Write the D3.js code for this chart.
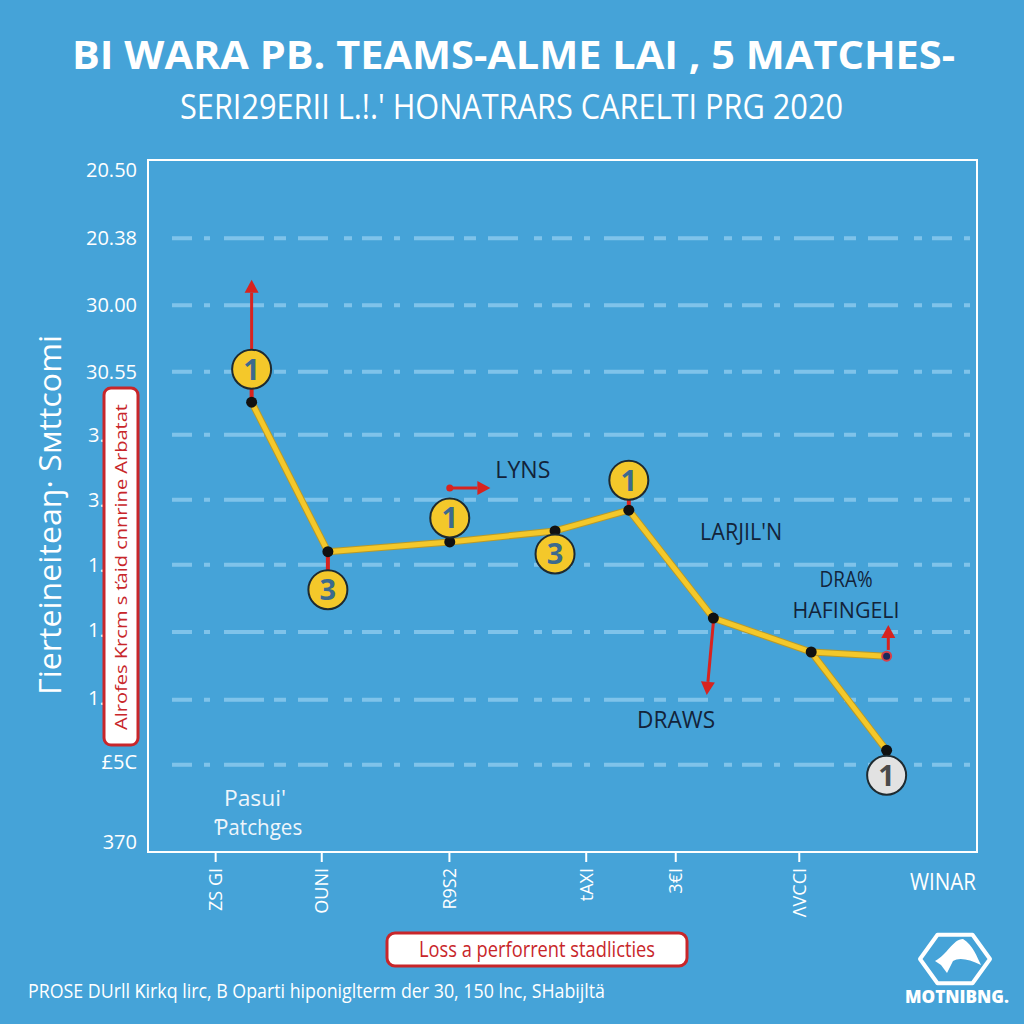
<!DOCTYPE html>
<html><head><meta charset="utf-8">
<script src="https://cdn.jsdelivr.net/npm/d3@7"></script>
<style>html,body{margin:0;padding:0;background:#45a3d8;}svg{display:block}</style>
</head><body><svg id="c" width="1024" height="1024"></svg>
<script>
// ---------- data ----------
const title = "BI WARA PB. TEAMS-ALME LAI , 5 MATCHES-";
const subtitle = "SERI29ERII L.!.' HONATRARS CARELTI PRG 2020";
const yAxisTitle = "Γierteineiteaŋ· Sмttcomi";
const redBoxText = "Alrofes Ƙrcm s ťaid cnnrine Arbatat";
const legendText = "Loss a perforrent stadlicties";
const footerText = "PROSE DUrll Ƙirkq lirc, B Oparti hiponiglterm der 30, 150 lnc, SHabijltä";
const xEndLabel = "WINAR";
const brandName = "MOTNIBNG.";
const yTickValues = [98.5, 88.7, 79, 69.4, 60.3, 50.9, 41.5, 32.1, 22.3, 13, 1.5];
const yTickLabels = ["20.50","20.38","30.00","30.55","3.0","3.0","1.0","1.0","1.0","£5C","370"];
const gridValues = [88.7, 79, 69.4, 60.3, 50.9, 41.5, 31.8, 22.0, 12.6];
const xTickValues = [8.1, 20.9, 36.3, 52.8, 63.6, 78.5];
const xTickLabels = ["ZS GI","OUNI","R9S2","tAXI","3€I","ΛVCCI"];
const matchX = [12.5, 21.7, 36.4, 49.1, 58.0, 68.2, 80.0, 89.1];
const matchY = [65.0, 43.4, 44.8, 46.4, 49.4, 33.8, 28.9, 14.7];
const branchX = [80.0, 89.1];
const branchY = [28.9, 28.3];
const badgeIndex = [0, 1, 2, 3, 4, 7];
const badgeLabels = ["1", "3", "1", "3", "1", "1"];
const badgeKind = ["win", "draw", "win", "draw", "win", "loss"];
const noteLabels = ["LYNS", "LARJIL'N", "DRA%", "HAFINGELI", "DRAWS", "Pasui'", "Ƥatchges"];
const noteX = [41.9, 66.6, 84.2, 84.2, 59.0, 12.9, 13.3];
const noteY = [54.0, 45.1, 38.3, 33.8, 17.9, 6.6, 2.5];
const arrowX1 = [12.5, 36.4, 68.2, 89.3];
const arrowY1 = [72.5, 52.6, 33.2, 29.2];
const arrowX2 = [12.5, 41.3, 67.4, 89.3];
const arrowY2 = [82.7, 52.6, 22.7, 32.8];

// ---------- layout ----------
const svg = d3.select("#c");
const W = 1024, H = 1024;
const plot = {l: 148, r: 977, t: 160, b: 852};
const x = d3.scaleLinear().domain([0, 100]).range([plot.l, plot.r]);
const y = d3.scaleLinear().domain([0, 100]).range([plot.b, plot.t]);
const F = "'Open Sans', 'Noto Sans', sans-serif";
const navy = "#13233a", red = "#d8231f", yellow = "#f4c82a";

svg.append("rect").attr("width", W).attr("height", H).attr("fill", "#45a3d8");

// title
svg.append("text").attr("x", 72).attr("y", 69).text(title)
  .attr("font-family", F).attr("font-weight", 700).attr("font-size", 40).attr("fill", "#fff")
  .attr("textLength", 883).attr("lengthAdjust", "spacingAndGlyphs");
svg.append("text").attr("x", 180).attr("y", 119).text(subtitle)
  .attr("font-family", F).attr("font-size", 34).attr("fill", "#fff")
  .attr("textLength", 663).attr("lengthAdjust", "spacingAndGlyphs");

// gridlines
svg.append("g").selectAll("line").data(gridValues).join("line")
  .attr("x1", 172).attr("x2", 970)
  .attr("y1", d => y(d)).attr("y2", d => y(d))
  .attr("stroke", "#8ecbef").attr("stroke-width", 4).attr("opacity", 0.8)
  .attr("stroke-dasharray", "20 12 6 14 40 10 12 12 30 16 8 10");

// frame
svg.append("rect").attr("x", plot.l).attr("y", plot.t)
  .attr("width", plot.r - plot.l).attr("height", plot.b - plot.t)
  .attr("fill", "none").attr("stroke", "#fff").attr("stroke-width", 2);

// y axis tick labels
const yAxis = d3.axisLeft(y).tickValues(yTickValues)
  .tickFormat((d, i) => yTickLabels[i]).tickSize(0).tickPadding(11);
const gy = svg.append("g").attr("transform", `translate(${plot.l},0)`).call(yAxis);
gy.select(".domain").remove();
gy.selectAll("text").attr("font-family", F).attr("font-size", 20).attr("fill", "#fff")
  .each(function(d, i) {
    if (i >= 4 && i <= 8) d3.select(this).attr("text-anchor", "start").attr("x", -60);
  });

// x axis
const xAxis = d3.axisBottom(x).tickValues(xTickValues).tickFormat((d, i) => xTickLabels[i])
  .tickSize(10).tickPadding(6);
const gx = svg.append("g").attr("transform", `translate(0,${plot.b})`).call(xAxis);
gx.select(".domain").remove();
gx.selectAll("line").attr("stroke", "#fff").attr("stroke-width", 2);
gx.selectAll("text").attr("font-family", F).attr("font-size", 18).attr("fill", "#fff")
  .attr("transform", "rotate(-90)").attr("text-anchor", "end")
  .attr("x", -16).attr("y", 0).attr("dy", "0.35em");
svg.append("text").attr("x", 943).attr("y", 890).text(xEndLabel)
  .attr("font-family", F).attr("font-size", 23).attr("fill", "#fff").attr("text-anchor", "middle")
  .attr("textLength", 66).attr("lengthAdjust", "spacingAndGlyphs");

// y axis title
svg.append("text").attr("transform", "translate(61,515) rotate(-90)").text(yAxisTitle)
  .attr("font-family", F).attr("font-size", 31).attr("fill", "#fff").attr("text-anchor", "middle")
  .attr("textLength", 360).attr("lengthAdjust", "spacingAndGlyphs");

// red box (sits over the middle tick labels)
svg.append("rect").attr("x", 104).attr("y", 388).attr("width", 34).attr("height", 357)
  .attr("rx", 7).attr("fill", "#fff").attr("stroke", "#c8262a").attr("stroke-width", 3);
svg.append("text").attr("transform", "translate(127,567) rotate(-90)").text(redBoxText)
  .attr("font-family", F).attr("font-size", 17).attr("fill", "#c8262a").attr("text-anchor", "middle")
  .attr("textLength", 326).attr("lengthAdjust", "spacingAndGlyphs");

// badge connectors (red)
const badgeOffset = [-33, 38, -24, 23, -30, 25];
svg.append("g").selectAll("line").data(badgeIndex).join("line")
  .attr("x1", d => x(matchX[d])).attr("y1", d => y(matchY[d]))
  .attr("x2", d => x(matchX[d])).attr("y2", (d, i) => y(matchY[d]) + badgeOffset[i])
  .attr("stroke", red).attr("stroke-width", 4);

// arrows
const arrowData = arrowX1.map((v, i) => ({x1: x(v), y1: y(arrowY1[i]), x2: x(arrowX2[i]), y2: y(arrowY2[i])}));
const ga = svg.append("g");
arrowData.forEach((a, i) => {
  const ang = Math.atan2(a.y2 - a.y1, a.x2 - a.x1);
  const hl = 13, hw = 7;
  const bx = a.x2 - hl * Math.cos(ang), by = a.y2 - hl * Math.sin(ang);
  ga.append("line").attr("x1", a.x1).attr("y1", a.y1).attr("x2", bx).attr("y2", by)
    .attr("stroke", red).attr("stroke-width", 3);
  const px = -Math.sin(ang), py = Math.cos(ang);
  ga.append("path").attr("d", `M${a.x2},${a.y2}L${bx + px * hw},${by + py * hw}L${bx - px * hw},${by - py * hw}Z`)
    .attr("fill", red);
  if (i === 1) ga.append("circle").attr("cx", a.x1).attr("cy", a.y1).attr("r", 3.5).attr("fill", red);
});

// line
const line = d3.line().x(d => x(d[0])).y(d => y(d[1]));
const mainPts = matchX.map((v, i) => [v, matchY[i]]);
const branchPts = branchX.map((v, i) => [v, branchY[i]]);
[mainPts, branchPts].forEach(pts => {
  svg.append("path").attr("d", line(pts)).attr("fill", "none")
    .attr("stroke", "#b89a2a").attr("stroke-width", 7).attr("stroke-linejoin", "round");
  svg.append("path").attr("d", line(pts)).attr("fill", "none")
    .attr("stroke", yellow).attr("stroke-width", 5).attr("stroke-linejoin", "round");
});

// points
svg.append("g").selectAll("circle").data(mainPts).join("circle")
  .attr("cx", d => x(d[0])).attr("cy", d => y(d[1])).attr("r", 5.5).attr("fill", "#111");
svg.append("circle").attr("cx", x(branchX[1])).attr("cy", y(branchY[1])).attr("r", 4.5)
  .attr("fill", "#1a2a5a").attr("stroke", "#d8404a").attr("stroke-width", 2);

// badges
const gb = svg.append("g").selectAll("g").data(badgeIndex).join("g")
  .attr("transform", (d, i) => `translate(${x(matchX[d])},${y(matchY[d]) + badgeOffset[i]})`);
gb.append("circle").attr("r", 19.5)
  .attr("fill", (d, i) => badgeKind[i] === "loss" ? "#e2e2e2" : yellow)
  .attr("stroke", "#1e2a30").attr("stroke-width", 2);
gb.append("text").text((d, i) => badgeLabels[i])
  .attr("text-anchor", "middle").attr("dy", "0.36em")
  .attr("font-family", F).attr("font-weight", 700).attr("font-size", 29)
  .attr("fill", (d, i) => badgeKind[i] === "loss" ? "#4a4a4a" : "#3c6a8e");

// notes
const noteLen = [55, 82, 53, 107, 78, 62, 88];
svg.append("g").selectAll("text").data(noteLabels).join("text")
  .attr("x", (d, i) => x(noteX[i])).attr("y", (d, i) => y(noteY[i])).text(d => d)
  .attr("font-family", F).attr("font-size", (d, i) => (i === 2 || i === 3) ? 22 : i >= 5 ? 21 : 24)
  .attr("textLength", (d, i) => noteLen[i]).attr("lengthAdjust", "spacingAndGlyphs")
  .attr("text-anchor", (d, i) => (i === 2 || i === 3 || i >= 5) ? "middle" : "start")
  .attr("fill", (d, i) => i >= 5 ? "#eef5fb" : navy);

// bottom legend box
svg.append("rect").attr("x", 387).attr("y", 933).attr("width", 300).attr("height", 33)
  .attr("rx", 8).attr("fill", "#fff").attr("stroke", "#c8262a").attr("stroke-width", 3);
svg.append("text").attr("x", 537).attr("y", 957).text(legendText)
  .attr("font-family", F).attr("font-size", 21).attr("fill", "#c8262a").attr("text-anchor", "middle")
  .attr("textLength", 236).attr("lengthAdjust", "spacingAndGlyphs");

// footer
svg.append("text").attr("x", 28).attr("y", 998).text(footerText)
  .attr("font-family", F).attr("font-size", 20).attr("fill", "#fff")
  .attr("textLength", 577).attr("lengthAdjust", "spacingAndGlyphs");

// logo
const cx = 955, cy = 959, R = 35;
const hex = d3.range(6).map(k => { const a = Math.PI / 3 * k; return [cx + R * Math.cos(a), cy + R * Math.sin(a) * 0.8]; });
svg.append("path").attr("d", "M" + hex.join("L") + "Z").attr("fill", "none")
  .attr("stroke", "#fff").attr("stroke-width", 4).attr("stroke-linejoin", "round");
svg.append("path").attr("d", `M${cx-20},${cy+2} C${cx-8},${cy-4} ${cx-2},${cy-20} ${cx+8},${cy-20} C${cx+18},${cy-14} ${cx+22},${cy-2} ${cx+26},${cy+6} C${cx+14},${cy} ${cx+4},${cy-2} ${cx-2},${cy+2} L${cx-8},${cy+14} L${cx-14},${cy+6} Z`)
  .attr("fill", "#fff");
svg.append("text").attr("x", 957).attr("y", 1003).text(brandName)
  .attr("font-family", F).attr("font-weight", 800).attr("font-size", 17).attr("fill", "#fff")
  .attr("text-anchor", "middle").attr("textLength", 104).attr("lengthAdjust", "spacingAndGlyphs");
</script></body></html>
